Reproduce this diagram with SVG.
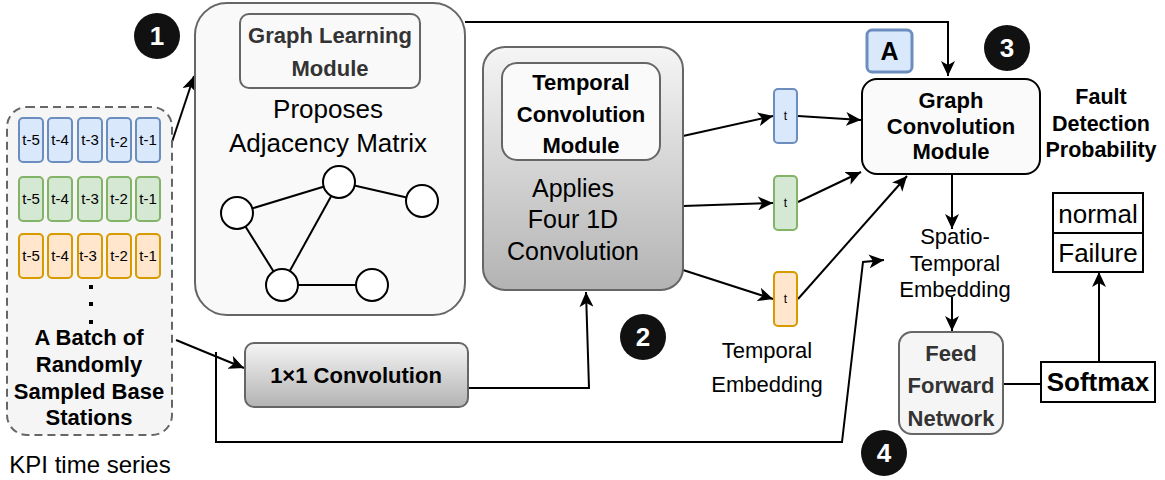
<svg xmlns="http://www.w3.org/2000/svg" width="1165" height="480" viewBox="0 0 1165 480">
  <defs>
    <marker id="arrow" markerUnits="userSpaceOnUse" markerWidth="16" markerHeight="14" refX="15" refY="7" orient="auto">
      <path d="M0,0 L15,7 L0,14 L4,7 Z" fill="#000"/>
    </marker>
    <linearGradient id="grayGrad" x1="0" y1="0" x2="0" y2="1">
      <stop offset="0" stop-color="#f5f5f5"/>
      <stop offset="1" stop-color="#b3b3b3"/>
    </linearGradient>
    <style>
      text { font-family: "Liberation Sans", Arial, sans-serif; text-anchor: middle; }
      .cell { stroke-width: 2; }
      .blue { fill: #dae8fc; stroke: #6c8ebf; }
      .green { fill: #d5e8d4; stroke: #82b366; }
      .orange { fill: #ffe6cc; stroke: #d79b00; }
      .cellText { font-size: 15px; fill: #000; }
      .tText { font-size: 12px; fill: #000; }
      .edge { fill: none; stroke: #000; stroke-width: 2; }
      .graphEdge { stroke: #000; stroke-width: 2; }
      .graphNode { fill: #fff; stroke: #000; stroke-width: 2; }
      .bold { font-weight: bold; }
      .badge { fill: #111; }
      .badgeText { fill: #fff; font-weight: bold; font-size: 26px; }
    </style>
  </defs>

  <!-- connectors -->
  <g id="connectors">
    <path class="edge" d="M172,142 L194,76" marker-end="url(#arrow)"/>
    <path class="edge" d="M465,22 H948 V76" marker-end="url(#arrow)"/>
    <path class="edge" d="M176,340 L244,368" marker-end="url(#arrow)"/>
    <path class="edge" d="M468,388 H589 L586,292" marker-end="url(#arrow)"/>
    <path class="edge" d="M216,352 V442 H842 L863,262 L884,260" marker-end="url(#arrow)"/>
    <path class="edge" d="M683,136 L773,116" marker-end="url(#arrow)"/>
    <path class="edge" d="M683,206 L773,203" marker-end="url(#arrow)"/>
    <path class="edge" d="M683,270 L773,299" marker-end="url(#arrow)"/>
    <path class="edge" d="M798,116 L861,120" marker-end="url(#arrow)"/>
    <path class="edge" d="M798,202 L861,172" marker-end="url(#arrow)"/>
    <path class="edge" d="M798,299 L907,176" marker-end="url(#arrow)"/>
    <path class="edge" d="M952,174 V229" marker-end="url(#arrow)"/>
    <path class="edge" d="M952,297 V331" marker-end="url(#arrow)"/>
    <path class="edge" d="M1003,384 H1041"/>
    <path class="edge" d="M1099,362 V272" marker-end="url(#arrow)"/>
  </g>

  <!-- KPI batch -->
  <g id="batch">
    <rect x="7" y="107" width="165" height="328" rx="20" fill="#f5f5f5" stroke="#666" stroke-width="2" stroke-dasharray="8 5"/>
    <rect class="cell blue" x="19" y="118" width="24" height="44" rx="4"/>
    <rect class="cell blue" x="48" y="118" width="24" height="44" rx="4"/>
    <rect class="cell blue" x="78" y="118" width="24" height="44" rx="4"/>
    <rect class="cell blue" x="107" y="118" width="24" height="44" rx="4"/>
    <rect class="cell blue" x="136" y="118" width="24" height="44" rx="4"/>
    <text class="cellText" x="31" y="145">t-5</text>
    <text class="cellText" x="60" y="145">t-4</text>
    <text class="cellText" x="90" y="145">t-3</text>
    <text class="cellText" x="119" y="147">t-2</text>
    <text class="cellText" x="148" y="145">t-1</text>

    <rect class="cell green" x="19" y="177" width="24" height="44" rx="4"/>
    <rect class="cell green" x="48" y="177" width="24" height="44" rx="4"/>
    <rect class="cell green" x="78" y="177" width="24" height="44" rx="4"/>
    <rect class="cell green" x="107" y="177" width="24" height="44" rx="4"/>
    <rect class="cell green" x="136" y="177" width="24" height="44" rx="4"/>
    <text class="cellText" x="31" y="204">t-5</text>
    <text class="cellText" x="60" y="204">t-4</text>
    <text class="cellText" x="90" y="204">t-3</text>
    <text class="cellText" x="119" y="204">t-2</text>
    <text class="cellText" x="148" y="204">t-1</text>

    <rect class="cell orange" x="19" y="234" width="24" height="44" rx="4"/>
    <rect class="cell orange" x="48" y="234" width="24" height="44" rx="4"/>
    <rect class="cell orange" x="78" y="234" width="24" height="44" rx="4"/>
    <rect class="cell orange" x="107" y="234" width="24" height="44" rx="4"/>
    <rect class="cell orange" x="136" y="234" width="24" height="44" rx="4"/>
    <text class="cellText" x="31" y="261">t-5</text>
    <text class="cellText" x="60" y="261">t-4</text>
    <text class="cellText" x="88" y="261">t-3</text>
    <text class="cellText" x="119" y="261">t-2</text>
    <text class="cellText" x="148" y="261">t-1</text>

    <rect x="89" y="285" width="4" height="4" fill="#000"/>
    <rect x="89" y="302" width="4" height="4" fill="#000"/>
    <rect x="89" y="320" width="4" height="4" fill="#000"/>

    <text class="bold" font-size="22" x="89" y="345">A Batch of</text>
    <text class="bold" font-size="22" x="89" y="372">Randomly</text>
    <text class="bold" font-size="22" x="89" y="399">Sampled Base</text>
    <text class="bold" font-size="22" x="89" y="425">Stations</text>
  </g>
  <text x="90" y="473" font-size="24">KPI time series</text>

  <!-- Graph learning module -->
  <g id="graph-learning">
    <rect x="195" y="3" width="270" height="312" rx="32" fill="#f9f9f9" stroke="#666" stroke-width="2"/>
    <rect x="240" y="14" width="180" height="74" rx="9" fill="#f9f9f9" stroke="#666" stroke-width="2"/>
    <text class="bold" font-size="22" fill="#333" x="330" y="43">Graph Learning</text>
    <text class="bold" font-size="22" fill="#333" x="330" y="76">Module</text>
    <text font-size="26" x="328" y="118">Proposes</text>
    <text font-size="26" x="328" y="152">Adjacency Matrix</text>
    <line class="graphEdge" x1="237" y1="213" x2="339" y2="182"/>
    <line class="graphEdge" x1="339" y1="182" x2="422" y2="201"/>
    <line class="graphEdge" x1="237" y1="213" x2="282" y2="285"/>
    <line class="graphEdge" x1="339" y1="182" x2="282" y2="285"/>
    <line class="graphEdge" x1="282" y1="285" x2="372" y2="285"/>
    <circle class="graphNode" cx="237" cy="213" r="16"/>
    <circle class="graphNode" cx="339" cy="182" r="16"/>
    <circle class="graphNode" cx="422" cy="201" r="16"/>
    <circle class="graphNode" cx="282" cy="285" r="16"/>
    <circle class="graphNode" cx="372" cy="285" r="16"/>
  </g>

  <!-- Temporal convolution module -->
  <g id="temporal-conv">
    <rect x="483" y="47" width="200" height="243" rx="22" fill="url(#grayGrad)" stroke="#666" stroke-width="2"/>
    <rect x="502" y="63" width="158" height="97" rx="15" fill="#fafafa" stroke="#666" stroke-width="2"/>
    <text class="bold" font-size="22" x="581" y="90">Temporal</text>
    <text class="bold" font-size="22" x="581" y="122">Convolution</text>
    <text class="bold" font-size="22" x="581" y="153">Module</text>
    <text font-size="25" x="573" y="197">Applies</text>
    <text font-size="25" x="573" y="228">Four 1D</text>
    <text font-size="25" x="573" y="260">Convolution</text>
  </g>

  <!-- 1x1 convolution -->
  <g id="conv1x1">
    <rect x="245" y="343" width="223" height="64" rx="9" fill="url(#grayGrad)" stroke="#666" stroke-width="2"/>
    <text class="bold" font-size="22" x="356" y="383">1×1 Convolution</text>
  </g>

  <!-- temporal embeddings -->
  <g id="embed-blue">
    <rect class="cell blue" x="774" y="89" width="23" height="54" rx="4"/>
    <text class="tText" x="785.5" y="120">t</text>
  </g>
  <g id="embed-green">
    <rect class="cell green" x="774" y="176" width="23" height="54" rx="4"/>
    <text class="tText" x="785.5" y="207">t</text>
  </g>
  <g id="embed-orange">
    <rect class="cell orange" x="774" y="272" width="23" height="54" rx="4"/>
    <text class="tText" x="785.5" y="303">t</text>
  </g>
  <g id="temporal-embedding-label">
    <text font-size="22" x="767" y="358">Temporal</text>
    <text font-size="22" x="767" y="392">Embedding</text>
  </g>

  <!-- adjacency matrix badge -->
  <g id="adjacency">
    <rect x="867" y="30" width="45" height="42" rx="5" fill="#dae8fc" stroke="#6c8ebf" stroke-width="3"/>
    <text class="bold" font-size="25" x="889.5" y="60">A</text>
  </g>

  <!-- Graph convolution module -->
  <g id="graph-conv">
    <rect x="862" y="79" width="178" height="95" rx="15" fill="#fafafa" stroke="#000" stroke-width="2"/>
    <text class="bold" font-size="22" x="951" y="108">Graph</text>
    <text class="bold" font-size="22" x="951" y="134">Convolution</text>
    <text class="bold" font-size="22" x="951" y="159">Module</text>
  </g>

  <g id="spatio-temporal-label">
    <text font-size="22" x="955" y="244">Spatio-</text>
    <text font-size="22" x="955" y="271">Temporal</text>
    <text font-size="22" x="955" y="297">Embedding</text>
  </g>

  <!-- Feed forward network -->
  <g id="ffn">
    <rect x="899" y="332" width="104" height="102" rx="13" fill="#f5f5f5" stroke="#666" stroke-width="2"/>
    <text class="bold" font-size="22" fill="#333" x="951" y="361">Feed</text>
    <text class="bold" font-size="22" fill="#333" x="951" y="393">Forward</text>
    <text class="bold" font-size="22" fill="#333" x="951" y="426">Network</text>
  </g>

  <!-- Softmax -->
  <g id="softmax">
    <rect x="1041" y="362" width="114" height="40" fill="#fff" stroke="#000" stroke-width="2"/>
    <text class="bold" font-size="26" x="1098" y="391">Softmax</text>
  </g>

  <!-- Output classes -->
  <g id="output">
    <rect x="1053" y="193" width="90" height="79" fill="#fff" stroke="#000" stroke-width="2"/>
    <line x1="1053" y1="233" x2="1143" y2="233" stroke="#000" stroke-width="2"/>
    <text font-size="26" x="1098" y="223">normal</text>
    <text font-size="26" x="1098" y="262">Failure</text>
  </g>

  <g id="fault-label">
    <text class="bold" font-size="21.5" x="1101" y="104">Fault</text>
    <text class="bold" font-size="21.5" x="1101" y="131">Detection</text>
    <text class="bold" font-size="21.5" x="1101" y="157">Probability</text>
  </g>

  <!-- step badges -->
  <g id="step1">
    <circle class="badge" cx="157" cy="36" r="23"/>
    <text class="badgeText" x="157" y="45">1</text>
  </g>
  <g id="step2">
    <circle class="badge" cx="643" cy="337" r="23"/>
    <text class="badgeText" x="643" y="346">2</text>
  </g>
  <g id="step3">
    <circle class="badge" cx="1007" cy="48" r="23"/>
    <text class="badgeText" x="1007" y="57">3</text>
  </g>
  <g id="step4">
    <circle class="badge" cx="884" cy="453" r="23"/>
    <text class="badgeText" x="884" y="462">4</text>
  </g>
</svg>
